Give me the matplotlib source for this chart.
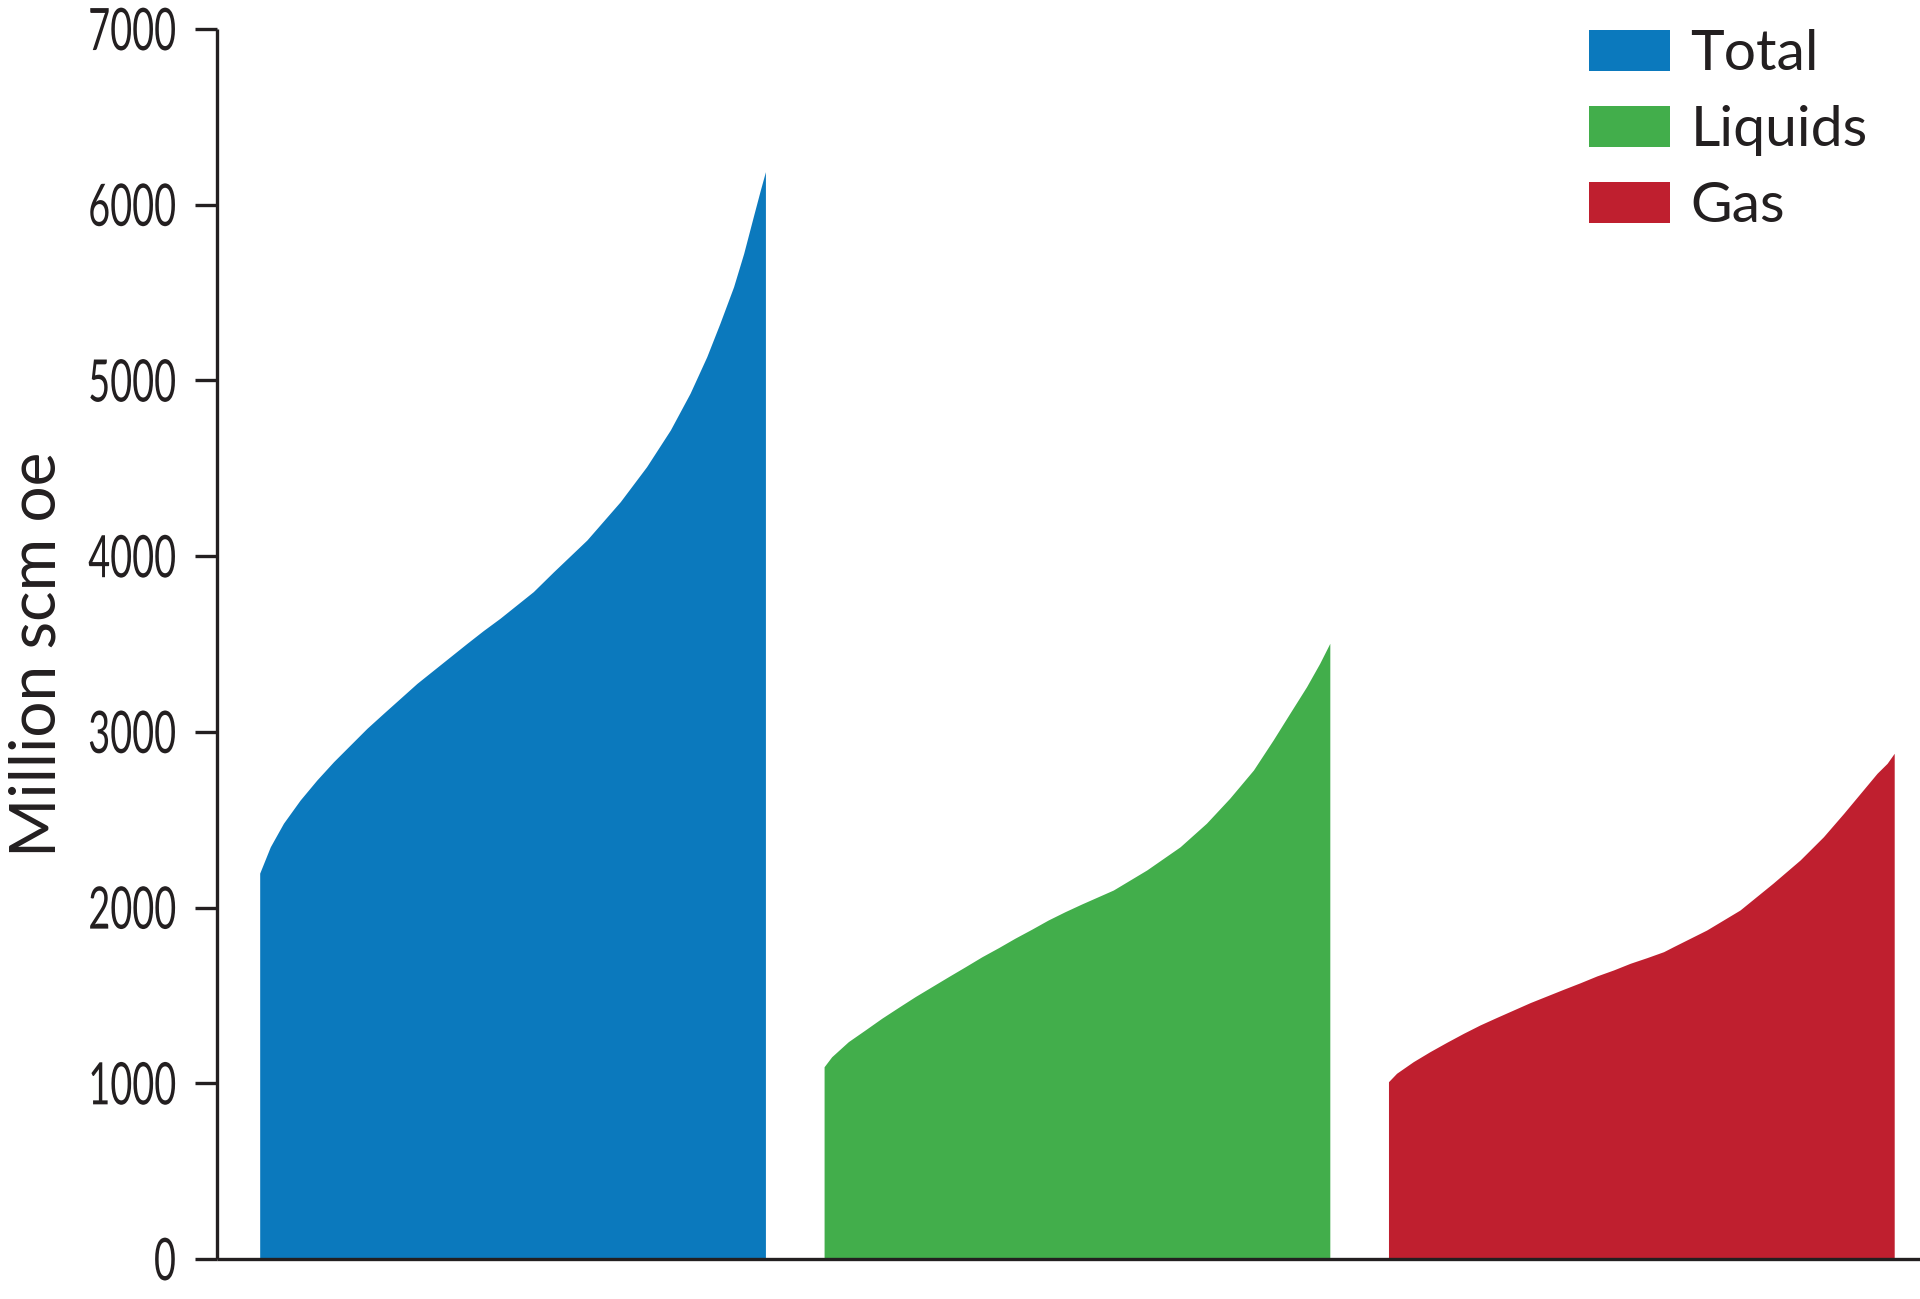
import matplotlib
matplotlib.use("Agg")
import matplotlib.pyplot as plt
from matplotlib.patches import Patch
from matplotlib.patheffects import AbstractPathEffect
from matplotlib.transforms import Affine2D

# ---- data ----
series = ["Total", "Liquids", "Gas"]
colors = ["#0b79bd", "#42ae4b", "#bf1f2f"]

# position within each block (fraction of block width) and value (million scm oe)
total_frac = [0.0, 0.021, 0.047, 0.080, 0.113, 0.146, 0.179, 0.212, 0.245, 0.278,
              0.311, 0.344, 0.377, 0.410, 0.442, 0.475, 0.508, 0.541, 0.581, 0.647,
              0.713, 0.765, 0.812, 0.851, 0.884, 0.910, 0.937, 0.957, 0.976, 0.990, 1.0]
total_vals = [2196, 2346, 2480, 2612, 2726, 2830, 2925, 3020, 3106, 3191,
              3276, 3352, 3428, 3504, 3576, 3646, 3722, 3798, 3911, 4092,
              4310, 4509, 4718, 4927, 5135, 5325, 5533, 5723, 5932, 6084, 6188]

liquids_frac = [0.0, 0.015, 0.048, 0.081, 0.114, 0.147, 0.180, 0.213, 0.246, 0.279,
                0.312, 0.345, 0.377, 0.410, 0.443, 0.476, 0.509, 0.572, 0.638, 0.704,
                0.756, 0.802, 0.849, 0.888, 0.921, 0.954, 0.980, 1.0]
liquids_vals = [1094, 1151, 1237, 1303, 1370, 1432, 1493, 1550, 1607, 1663,
                1720, 1772, 1825, 1876, 1929, 1976, 2020, 2100, 2214, 2346,
                2480, 2622, 2783, 2954, 3106, 3257, 3390, 3504]

gas_frac = [0.0, 0.016, 0.049, 0.082, 0.115, 0.148, 0.181, 0.214, 0.247, 0.280,
            0.313, 0.346, 0.379, 0.412, 0.445, 0.478, 0.511, 0.544, 0.563, 0.629,
            0.695, 0.760, 0.814, 0.860, 0.900, 0.933, 0.966, 0.986, 1.0]
gas_vals = [1009, 1057, 1123, 1180, 1233, 1284, 1332, 1375, 1417, 1459,
            1497, 1535, 1572, 1611, 1645, 1683, 1715, 1749, 1777, 1872,
            1986, 2138, 2271, 2403, 2536, 2650, 2764, 2821, 2878]

yticks = [0, 1000, 2000, 3000, 4000, 5000, 6000, 7000]
ylabel = "Million scm oe"

fracs = [total_frac, liquids_frac, gas_frac]
vals = [total_vals, liquids_vals, gas_vals]


class CondensedTall(AbstractPathEffect):
    """Render text narrower and taller (condensed face look), keeping the
    right edge and vertical centre of the glyphs in place."""
    def __init__(self, sx, sy):
        super().__init__()
        self.sx = sx
        self.sy = sy

    def draw_path(self, renderer, gc, tpath, affine, rgbFace=None):
        v = tpath.vertices
        if len(v):
            x0 = v[:, 0].max()
            y0 = 0.5 * (v[:, 1].max() + v[:, 1].min())
        else:
            x0 = y0 = 0.0
        aff = (Affine2D().translate(-x0, -y0).scale(self.sx, self.sy)
               .translate(x0, y0) + affine)
        renderer.draw_path(gc, tpath, aff, rgbFace)


# ---- figure ----
W, H = 1920, 1299
fig = plt.figure(figsize=(W / 100, H / 100), dpi=100)
ax = fig.add_axes([216.7 / W, 40 / H, 1 - 216.7 / W, 1230 / H])

gap = 0.116
for i, (fr, v, c) in enumerate(zip(fracs, vals, colors)):
    start = i * (1 + gap)
    xs = [start + f for f in fr]
    ax.fill_between(xs, 0, v, color=c, linewidth=0)

ax.set_xlim(-0.085, 2 * (1 + gap) + 1 + 0.051)
ax.set_ylim(0, 7000)

ink = "#231f20"
for s in ["top", "right"]:
    ax.spines[s].set_visible(False)
for s in ["left", "bottom"]:
    ax.spines[s].set_linewidth(2.4)
    ax.spines[s].set_color(ink)
    ax.spines[s].set_capstyle("butt")

ax.set_xticks([])
ax.set_yticks(yticks)
ax.set_yticklabels([str(t) for t in yticks],
                   fontfamily=["Lato", "DejaVu Sans"], fontweight="normal",
                   fontsize=31, color=ink)
for lab in ax.get_yticklabels():
    lab.set_path_effects([CondensedTall(0.88, 1.36)])
ax.tick_params(axis="y", length=15.8, width=2.4, color=ink, pad=13.5)

ax.set_ylabel(ylabel, fontfamily=["Lato", "DejaVu Sans"], fontsize=46, color=ink)
ax.yaxis.set_label_coords(-0.088, 0.492)

handles = [Patch(facecolor=c, edgecolor="none", label=s) for s, c in zip(series, colors)]
leg = ax.legend(handles=handles, loc="upper left",
                bbox_to_anchor=(1589 / W, 1 - 29 / H), bbox_transform=fig.transFigure,
                frameon=False, borderpad=0, borderaxespad=0,
                handlelength=1.43, handleheight=0.73, handletextpad=0.35,
                labelspacing=0.44,
                prop={"family": ["Lato", "DejaVu Sans"], "size": 41})
for t in leg.get_texts():
    t.set_color(ink)

fig.savefig("out.png", dpi=100, facecolor="white")
